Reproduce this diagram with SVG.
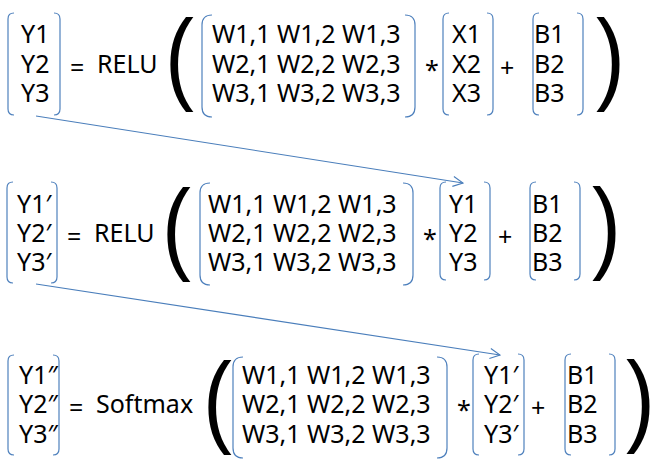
<svg xmlns="http://www.w3.org/2000/svg" width="662" height="474" viewBox="0 0 662 474">
<style>
.t{font-family:"Noto Sans","Open Sans","DejaVu Sans",sans-serif;font-size:25px;fill:#000}
.op{font-family:"Noto Sans","Open Sans",sans-serif;font-size:25px;fill:#000}
.p{font-family:"Liberation Sans",Arial,sans-serif;font-size:102px;fill:#000}
.br{fill:none;stroke:#4f81bd;stroke-width:1.2}
.ar{fill:none;stroke:#4a7ebb;stroke-width:1.1}
</style>
<defs>
<marker id="ah" viewBox="0 0 12 12" refX="11" refY="6" markerWidth="12" markerHeight="12" markerUnits="userSpaceOnUse" orient="auto">
<path d="M1,1 L11,6 L1,11" fill="none" stroke="#4a7ebb" stroke-width="1.1"/>
</marker>
</defs>
<rect width="662" height="474" fill="#fff"/>

<g id="row1">
<g id="y1vec">
<path class="br" d="M14,13 Q8,13 8,19 L8,109 Q8,115 14,115"/>
<path class="br" d="M54,13 Q60,13 60,19 L60,109 Q60,115 54,115"/>
<text class="t" x="21" y="43">Y1</text>
<text class="t" x="21" y="73">Y2</text>
<text class="t" x="21" y="102">Y3</text>
</g>
<text class="op" x="70" y="77">=</text>
<text class="t" x="97" y="73">RELU</text>
<text class="p" transform="translate(165,91) scale(0.85,1)">(</text>
<g id="w1mat">
<path class="br" d="M212,15 Q202,15 202,25 L202,107 Q202,117 212,117"/>
<path class="br" d="M405,15 Q415,15 415,25 L415,107 Q415,117 405,117"/>
<text class="t" x="212" y="43">W1,1 W1,2 W1,3</text>
<text class="t" x="212" y="73">W2,1 W2,2 W2,3</text>
<text class="t" x="212" y="102">W3,1 W3,2 W3,3</text>
</g>
<text class="op" x="425" y="79">*</text>
<g id="xvec">
<path class="br" d="M449,13 Q443,13 443,19 L443,109 Q443,115 449,115"/>
<path class="br" d="M487,13 Q493,13 493,19 L493,109 Q493,115 487,115"/>
<text class="t" x="452" y="43">X1</text>
<text class="t" x="452" y="73">X2</text>
<text class="t" x="452" y="102">X3</text>
</g>
<text class="op" x="500" y="77">+</text>
<g id="b1vec">
<path class="br" d="M539,13 Q533,13 533,19 L533,109 Q533,115 539,115"/>
<path class="br" d="M577,13 Q583,13 583,19 L583,109 Q583,115 577,115"/>
<text class="t" x="534" y="43">B1</text>
<text class="t" x="534" y="73">B2</text>
<text class="t" x="534" y="102">B3</text>
</g>
<text class="p" transform="translate(596,91) scale(0.85,1)">)</text>
</g>

<g id="row2">
<g id="y2vec">
<path class="br" d="M13,182 Q7,182 7,188 L7,277 Q7,283 13,283"/>
<path class="br" d="M51,182 Q57,182 57,188 L57,277 Q57,283 51,283"/>
<text class="t" x="17" y="213">Y1′</text>
<text class="t" x="17" y="242">Y2′</text>
<text class="t" x="17" y="271">Y3′</text>
</g>
<text class="op" x="67" y="246">=</text>
<text class="t" x="94" y="242">RELU</text>
<text class="p" transform="translate(162,261) scale(0.85,1)">(</text>
<g id="w2mat">
<path class="br" d="M210,183 Q200,183 200,193 L200,275 Q200,285 210,285"/>
<path class="br" d="M403,183 Q413,183 413,193 L413,275 Q413,285 403,285"/>
<text class="t" x="208" y="213">W1,1 W1,2 W1,3</text>
<text class="t" x="208" y="242">W2,1 W2,2 W2,3</text>
<text class="t" x="208" y="271">W3,1 W3,2 W3,3</text>
</g>
<text class="op" x="423" y="248">*</text>
<g id="y2in">
<path class="br" d="M446,182 Q440,182 440,188 L440,274 Q440,280 446,280"/>
<path class="br" d="M484,182 Q490,182 490,188 L490,274 Q490,280 484,280"/>
<text class="t" x="449" y="213">Y1</text>
<text class="t" x="449" y="242">Y2</text>
<text class="t" x="449" y="271">Y3</text>
</g>
<text class="op" x="498" y="246">+</text>
<g id="b2vec">
<path class="br" d="M536,182 Q530,182 530,188 L530,274 Q530,280 536,280"/>
<path class="br" d="M574,182 Q580,182 580,188 L580,274 Q580,280 574,280"/>
<text class="t" x="532" y="213">B1</text>
<text class="t" x="532" y="242">B2</text>
<text class="t" x="532" y="271">B3</text>
</g>
<text class="p" transform="translate(592,260) scale(0.85,1)">)</text>
</g>

<g id="row3">
<g id="y3vec">
<path class="br" d="M14,355 Q8,355 8,361 L8,449 Q8,455 14,455"/>
<path class="br" d="M53,355 Q59,355 59,361 L59,449 Q59,455 53,455"/>
<text class="t" x="19" y="384">Y1″</text>
<text class="t" x="19" y="413">Y2″</text>
<text class="t" x="19" y="443">Y3″</text>
</g>
<text class="op" x="69" y="417">=</text>
<text class="t" x="96" y="413">Softmax</text>
<text class="p" transform="translate(203,434) scale(0.85,1)">(</text>
<g id="w3mat">
<path class="br" d="M243,357 Q233,357 233,367 L233,448 Q233,458 243,458"/>
<path class="br" d="M437,357 Q447,357 447,367 L447,448 Q447,458 437,458"/>
<text class="t" x="242" y="384">W1,1 W1,2 W1,3</text>
<text class="t" x="242" y="413">W2,1 W2,2 W2,3</text>
<text class="t" x="242" y="443">W3,1 W3,2 W3,3</text>
</g>
<text class="op" x="457" y="419">*</text>
<g id="y3in">
<path class="br" d="M479,354 Q473,354 473,360 L473,449 Q473,455 479,455"/>
<path class="br" d="M518,354 Q524,354 524,360 L524,449 Q524,455 518,455"/>
<text class="t" x="484" y="384">Y1′</text>
<text class="t" x="484" y="413">Y2′</text>
<text class="t" x="484" y="443">Y3′</text>
</g>
<text class="op" x="531" y="417">+</text>
<g id="b3vec">
<path class="br" d="M571,354 Q565,354 565,360 L565,449 Q565,455 571,455"/>
<path class="br" d="M609,354 Q615,354 615,360 L615,449 Q615,455 609,455"/>
<text class="t" x="567" y="384">B1</text>
<text class="t" x="567" y="413">B2</text>
<text class="t" x="567" y="443">B3</text>
</g>
<text class="p" transform="translate(626,433) scale(0.85,1)">)</text>
</g>

<g id="connectors">
<line class="ar" x1="36" y1="116" x2="463" y2="183" marker-end="url(#ah)"/>
<line class="ar" x1="36" y1="284" x2="500" y2="355" marker-end="url(#ah)"/>
</g>
</svg>
